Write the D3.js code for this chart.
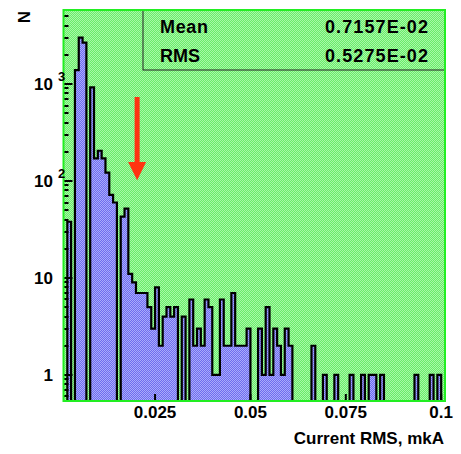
<!DOCTYPE html>
<html><head><meta charset="utf-8">
<script src="https://cdn.jsdelivr.net/npm/d3@7"></script>
<style>
body{margin:0;background:#fff}
svg{display:block}
text{font-family:"Liberation Sans",Arial,Helvetica,sans-serif;font-weight:bold;fill:#000}
</style>
</head><body>
<svg id="c" width="461" height="454"></svg>
<script>
// ---- data ----
const binStart = 0.001;
const binWidth = 0.001;
const counts = [
  0, 38, 0, 1390, 3010, 2670, 0, 925, 171, 205,
  171, 122, 72, 60, 0, 43, 52, 11, 9, 7,
  7, 7, 5, 3, 8, 2, 4, 5, 4, 5,
  0, 4, 0, 6, 2, 3, 2, 6, 5, 1,
  1, 6, 2, 2, 7, 2, 2, 2, 3, 0,
  0, 3, 1, 5, 1, 3, 2, 1, 3, 2,
  0, 0, 0, 0, 0, 2, 0, 0, 1, 0,
  0, 1, 0, 0, 0, 1, 0, 0, 1, 0,
  1, 1, 0, 1, 0, 0, 0, 0, 0, 0,
  0, 0, 1, 0, 0, 0, 1, 0, 1, 0
];
const xDomain = [0.001, 0.101];
const yDomain = [0.539, 5795];
const xTicks = [0.025, 0.05, 0.075, 0.1];
const xTickLabels = ["0.025", "0.05", "0.075", "0.1"];
const yMajor = [1, 10, 100, 1000];
const yLabelBase = ["1", "10", "10", "10"];
const yLabelExp = ["", "", "2", "3"];
const statNames = ["Mean", "RMS"];
const statValues = ["0.7157E-02", "0.5275E-02"];
const xTitle = "Current RMS, mkA";
const yTitle = "N";
const arrowX = 0.0203, arrowFrom = 735, arrowHeadBase = 157, arrowTo = 102;

// ---- layout ----
const L = 63.5, R = 445, T = 10, B = 401;
const svg = d3.select("#c");
const x = d3.scaleLinear().domain(xDomain).range([L, R]);
const y = d3.scaleLog().domain(yDomain).range([B, T]);

const defs = svg.append("defs");
function checker(id, a, b) {
  const p = defs.append("pattern").attr("id", id).attr("width", 2).attr("height", 2)
    .attr("patternUnits", "userSpaceOnUse");
  p.append("rect").attr("width", 2).attr("height", 2).attr("fill", a);
  p.append("rect").attr("width", 1).attr("height", 1).attr("fill", b);
  p.append("rect").attr("x", 1).attr("y", 1).attr("width", 1).attr("height", 1).attr("fill", b);
}
checker("gpat", "#6aec6a", "#a8f8a8");
checker("bpat", "#6e6eee", "#aaaafc");
defs.append("clipPath").attr("id", "fr").append("rect")
  .attr("x", L).attr("y", T).attr("width", R - L).attr("height", B - T);

// frame background
svg.append("rect").attr("x", L).attr("y", T).attr("width", R - L).attr("height", B - T)
  .attr("fill", "url(#gpat)");

// histogram
const pts = [[x(binStart), B + 3]];
counts.forEach((c, i) => {
  const yy = c > 0 ? y(c) : B + 3;
  pts.push([x(binStart + i * binWidth), yy]);
  pts.push([x(binStart + (i + 1) * binWidth), yy]);
});
pts.push([x(binStart + counts.length * binWidth), B + 3]);
const line = d3.line();
const g = svg.append("g").attr("clip-path", "url(#fr)");
g.append("path").attr("d", line(pts) + "Z").attr("fill", "url(#bpat)").attr("stroke", "none");
g.append("path").attr("d", line(pts)).attr("fill", "none").attr("stroke", "#000")
  .attr("stroke-width", 2.2).attr("stroke-linejoin", "miter");

// red arrow
const ax = x(arrowX);
svg.append("line").attr("x1", ax).attr("x2", ax).attr("y1", y(arrowFrom)).attr("y2", y(arrowHeadBase) + 1)
  .attr("stroke", "#ff3311").attr("stroke-width", 5);
svg.append("path")
  .attr("d", `M${ax - 9},${y(arrowHeadBase)} L${ax + 9},${y(arrowHeadBase)} L${ax},${y(arrowTo)} Z`)
  .attr("fill", "#ff3311");

// stats box
svg.append("rect").attr("x", 143).attr("y", T).attr("width", R - 143).attr("height", 60)
  .attr("fill", "url(#gpat)").attr("stroke", "#222").attr("stroke-width", 1);
statNames.forEach((n, i) => {
  svg.append("text").attr("x", 160).attr("y", 33 + i * 28.5).attr("font-size", 18)
    .attr("lengthAdjust", "spacing").attr("textLength", i === 0 ? 48 : 40).text(n);
  svg.append("text").attr("x", 428).attr("y", 33 + i * 28.5).attr("font-size", 18)
    .attr("text-anchor", "end").attr("textLength", 103).attr("lengthAdjust", "spacing")
    .text(statValues[i]);
});

// ticks
const minor = [];
[0.1, 1, 10, 100, 1000].forEach(d => { for (let m = 2; m <= 9; m++) { const v = d * m; if (v >= yDomain[0] && v <= yDomain[1]) minor.push(v); } });
const ag = svg.append("g").attr("stroke", "#000").attr("stroke-width", 2);
minor.forEach(v => ag.append("line").attr("x1", L).attr("x2", L + 5).attr("y1", Math.round(y(v))).attr("y2", Math.round(y(v))));
yMajor.forEach(v => ag.append("line").attr("x1", L).attr("x2", L + 9).attr("y1", Math.round(y(v))).attr("y2", Math.round(y(v))));
xTicks.forEach(v => ag.append("line").attr("x1", x(v)).attr("x2", x(v)).attr("y1", B).attr("y2", B - 7));

// frame line
svg.append("rect").attr("x", L).attr("y", T).attr("width", R - L).attr("height", B - T)
  .attr("fill", "none").attr("stroke", "#22ee22").attr("stroke-width", 2);

// y labels
yMajor.forEach((v, i) => {
  const yy = y(v);
  svg.append("text").attr("x", 53).attr("y", yy + 6).attr("font-size", 17)
    .attr("text-anchor", "end").text(yLabelBase[i]);
  if (yLabelExp[i]) {
    svg.append("text").attr("x", 58).attr("y", yy - 3).attr("font-size", 13).text(yLabelExp[i]);
  }
});
// x labels
xTicks.forEach((v, i) => {
  svg.append("text").attr("x", x(v)).attr("y", 418).attr("font-size", 17)
    .attr("text-anchor", "middle").text(xTickLabels[i]);
});
// titles
svg.append("text").attr("x", 444).attr("y", 444).attr("font-size", 17)
  .attr("text-anchor", "end").text(xTitle);
svg.append("text").attr("transform", "translate(30,11) rotate(-90)").attr("font-size", 17)
  .attr("text-anchor", "end").text(yTitle);
</script>
</body></html>
